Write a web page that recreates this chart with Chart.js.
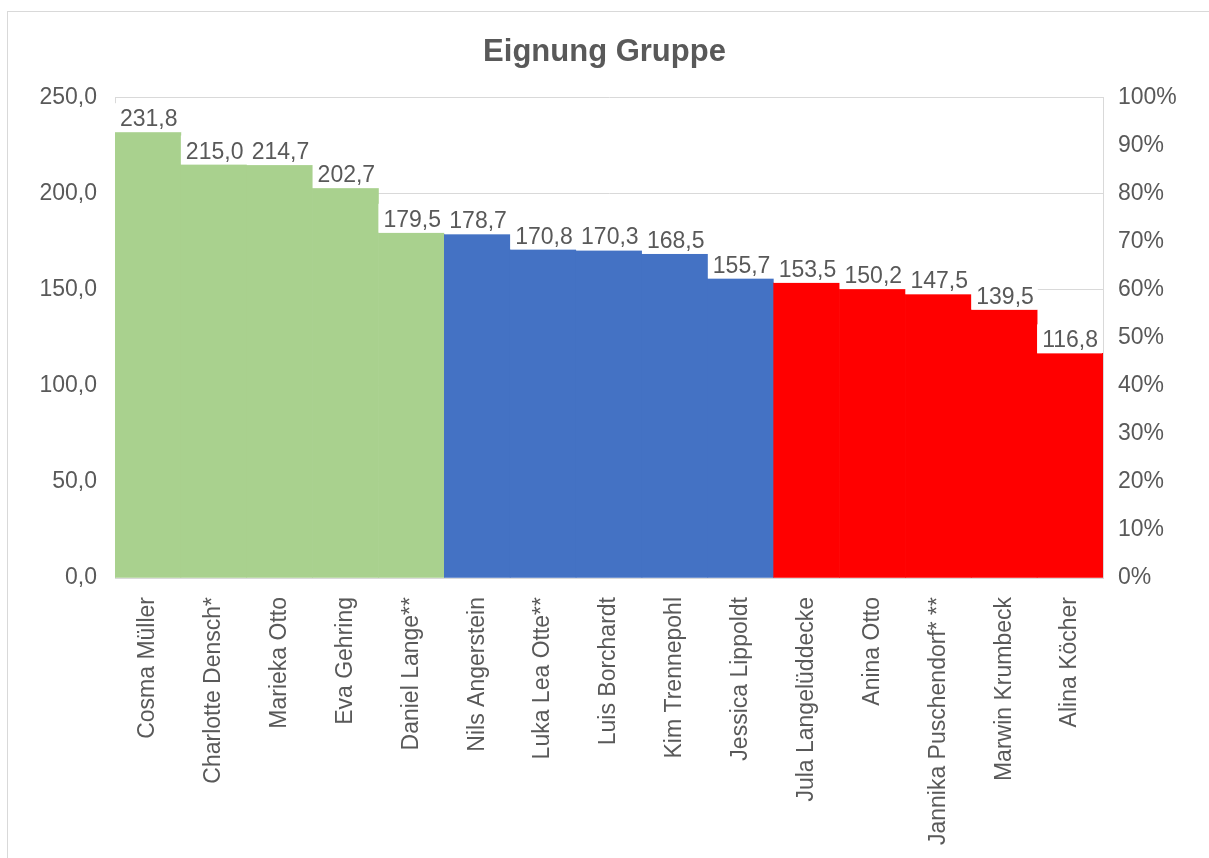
<!DOCTYPE html>
<html>
<head>
<meta charset="utf-8">
<script src="https://cdn.jsdelivr.net/npm/chart.js@4/dist/chart.umd.min.js"></script>
<style>
  body { margin: 0; background: #fff; }
  canvas { display: block; }
</style>
</head>
<body>
<canvas id="eignungChart" width="1209" height="858"></canvas>
<script>
// data
const names = [
  'Cosma Müller', 'Charlotte Densch*', 'Marieka Otto', 'Eva Gehring', 'Daniel Lange**',
  'Nils Angerstein', 'Luka Lea Otte**', 'Luis Borchardt', 'Kim Trennepohl', 'Jessica Lippoldt',
  'Jula Langelüddecke', 'Anina Otto', 'Jannika Puschendorf* **', 'Marwin Krumbeck', 'Alina Köcher'
];
const scores = [231.8, 215.0, 214.7, 202.7, 179.5, 178.7, 170.8, 170.3, 168.5, 155.7, 153.5, 150.2, 147.5, 139.5, 116.8];
const groups = [0, 0, 0, 0, 0, 1, 1, 1, 1, 1, 2, 2, 2, 2, 2];
const groupColors = ['#A9D18E', '#4472C4', '#FF0000'];

const textColor = '#595959';
const gridColor = '#D9D9D9';
const fmt = v => Number(v).toFixed(1).replace('.', ',');

Chart.defaults.font.family = "'Liberation Sans', Arial, sans-serif";
Chart.defaults.color = textColor;

// white-boxed value labels sitting on the left edge of each bar
const barLabels = {
  id: 'barLabels',
  afterDatasetsDraw(chart) {
    const ctx = chart.ctx;
    const meta = chart.getDatasetMeta(0);
    ctx.save();
    ctx.font = "23px 'Liberation Sans', Arial, sans-serif";
    ctx.textBaseline = 'alphabetic';
    ctx.textAlign = 'left';
    meta.data.forEach((bar, i) => {
      const txt = fmt(scores[i]);
      const left = bar.x - bar.width / 2;
      const tw = ctx.measureText(txt).width;
      ctx.fillStyle = '#fff';
      ctx.fillRect(left, bar.y - 29, tw + 9, 29);
      ctx.fillStyle = textColor;
      ctx.fillText(txt, left + 5, bar.y - 6);
    });
    ctx.restore();
  }
};

// thin outer frame like the chart area border
const outerFrame = {
  id: 'outerFrame',
  beforeDraw(chart) {
    const ctx = chart.ctx;
    ctx.save();
    ctx.fillStyle = '#fff';
    ctx.fillRect(0, 0, chart.width, chart.height);
    ctx.strokeStyle = gridColor;
    ctx.lineWidth = 1;
    ctx.strokeRect(7.5, 11.5, chart.width + 20, chart.height + 20);
    ctx.restore();
  }
};

new Chart(document.getElementById('eignungChart'), {
  type: 'bar',
  data: {
    labels: names,
    datasets: [{
      label: 'Eignung',
      data: scores,
      backgroundColor: groups.map(g => groupColors[g]),
      borderWidth: 0,
      barPercentage: 1,
      categoryPercentage: 1,
      yAxisID: 'y'
    }]
  },
  options: {
    responsive: false,
    animation: false,
    layout: { padding: 0 },
    plugins: {
      legend: { display: false },
      tooltip: { enabled: false },
      title: {
        display: true,
        text: 'Eignung Gruppe',
        color: textColor,
        font: { size: 31, weight: 'bold' },
        padding: { top: 34, bottom: 26 }
      }
    },
    scales: {
      x: {
        grid: { display: false, drawTicks: false },
        border: { display: true, color: gridColor },
        ticks: {
          color: textColor,
          font: { size: 23 },
          minRotation: 90,
          maxRotation: 90,
          autoSkip: false,
          padding: 19
        },
        afterFit: s => { s.height = 280; }
      },
      y: {
        position: 'left',
        min: 0,
        max: 250,
        grid: { color: gridColor, drawTicks: false },
        border: { display: true, color: gridColor },
        ticks: {
          stepSize: 50,
          color: textColor,
          font: { size: 23 },
          padding: 18,
          callback: v => fmt(v)
        },
        afterFit: s => { s.width = 115; }
      },
      y1: {
        position: 'right',
        min: 0,
        max: 1,
        grid: { display: false, drawTicks: false },
        border: { display: true, color: gridColor },
        ticks: {
          stepSize: 0.1,
          color: textColor,
          font: { size: 23 },
          padding: 15,
          callback: v => Math.round(v * 100) + '%'
        },
        afterFit: s => { s.width = 106; }
      }
    }
  },
  plugins: [outerFrame, barLabels]
});
</script>
</body>
</html>
